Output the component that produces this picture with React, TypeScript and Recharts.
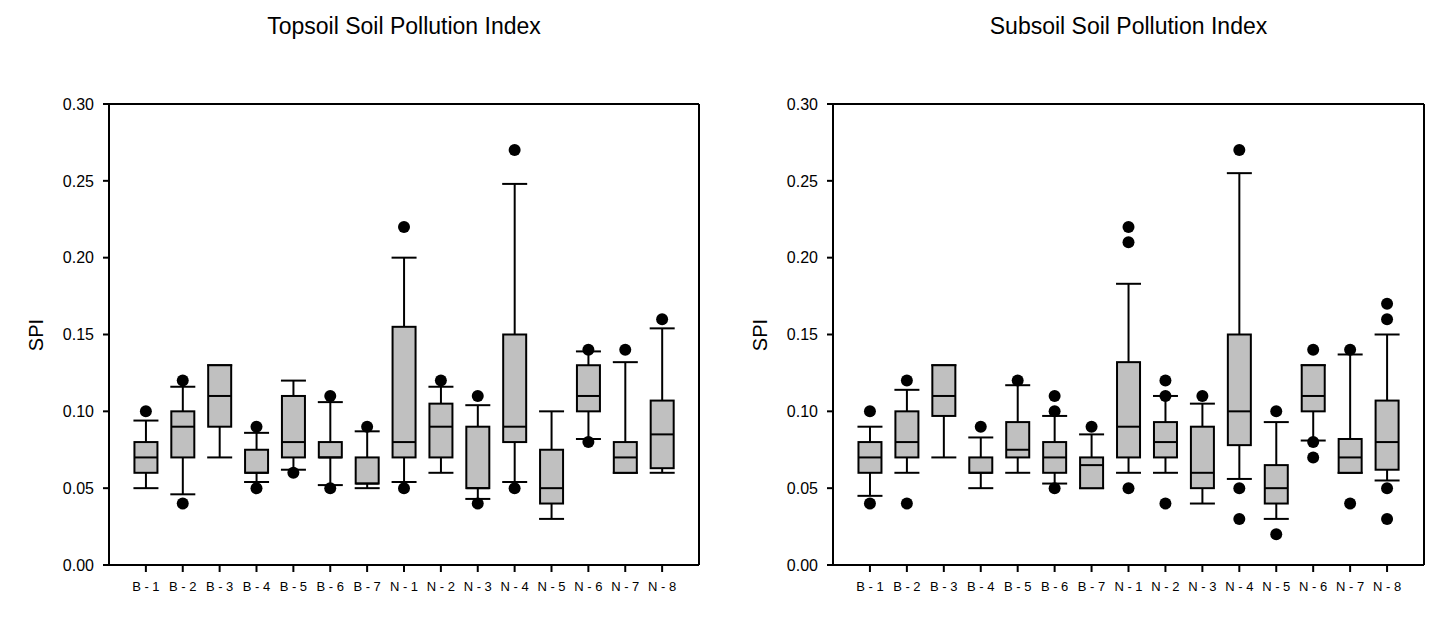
import React from "react";
import {
  ComposedChart,
  Bar,
  Scatter,
  XAxis,
  YAxis,
  ReferenceLine,
} from "recharts";

// sampling sites
const names = [
  "B - 1", "B - 2", "B - 3", "B - 4", "B - 5", "B - 6", "B - 7",
  "N - 1", "N - 2", "N - 3", "N - 4", "N - 5", "N - 6", "N - 7", "N - 8",
];
const yTicks = [0, 0.05, 0.1, 0.15, 0.2, 0.25, 0.3];

// topsoil box statistics
const topLow = [0.05, 0.046, 0.07, 0.054, 0.062, 0.052, 0.05, 0.054, 0.06, 0.043, 0.054, 0.03, 0.082, 0.06, 0.06];
const topQ1 = [0.06, 0.07, 0.09, 0.06, 0.07, 0.07, 0.053, 0.07, 0.07, 0.05, 0.08, 0.04, 0.1, 0.06, 0.063];
const topMed = [0.07, 0.09, 0.11, 0.06, 0.08, 0.07, 0.053, 0.08, 0.09, 0.05, 0.09, 0.05, 0.11, 0.07, 0.085];
const topQ3 = [0.08, 0.1, 0.13, 0.075, 0.11, 0.08, 0.07, 0.155, 0.105, 0.09, 0.15, 0.075, 0.13, 0.08, 0.107];
const topHigh = [0.094, 0.116, 0.13, 0.086, 0.12, 0.106, 0.087, 0.2, 0.116, 0.104, 0.248, 0.1, 0.139, 0.132, 0.154];
const topOutliers = [
  [0.1], [0.12, 0.04], [], [0.09, 0.05], [0.06], [0.11, 0.05], [0.09],
  [0.22, 0.05], [0.12], [0.11, 0.04], [0.27, 0.05], [], [0.14, 0.08], [0.14], [0.16],
];

// subsoil box statistics
const subLow = [0.045, 0.06, 0.07, 0.05, 0.06, 0.053, 0.05, 0.06, 0.06, 0.04, 0.056, 0.03, 0.081, 0.06, 0.055];
const subQ1 = [0.06, 0.07, 0.097, 0.06, 0.07, 0.06, 0.05, 0.07, 0.07, 0.05, 0.078, 0.04, 0.1, 0.06, 0.062];
const subMed = [0.07, 0.08, 0.11, 0.06, 0.075, 0.07, 0.065, 0.09, 0.08, 0.06, 0.1, 0.05, 0.11, 0.07, 0.08];
const subQ3 = [0.08, 0.1, 0.13, 0.07, 0.093, 0.08, 0.07, 0.132, 0.093, 0.09, 0.15, 0.065, 0.13, 0.082, 0.107];
const subHigh = [0.09, 0.114, 0.13, 0.083, 0.117, 0.097, 0.085, 0.183, 0.11, 0.105, 0.255, 0.093, 0.13, 0.137, 0.15];
const subOutliers = [
  [0.1, 0.04], [0.12, 0.04], [], [0.09], [0.12], [0.11, 0.1, 0.05], [0.09],
  [0.22, 0.21, 0.05], [0.12, 0.11, 0.04], [0.11], [0.27, 0.05, 0.03], [0.1, 0.02],
  [0.14, 0.08, 0.07], [0.14, 0.04], [0.17, 0.16, 0.05, 0.03],
];

const FONT = "'Liberation Sans', Arial, sans-serif";
const positions = names.map((_, i) => i + 1);

function buildBoxes(lo: number[], q1: number[], med: number[], q3: number[], hi: number[]) {
  return names.map((name, i) => ({
    name,
    pos: i + 1,
    lo: lo[i],
    q1: q1[i],
    med: med[i],
    q3: q3[i],
    hi: hi[i],
  }));
}

function flattenOutliers(out: number[][]) {
  return out.flatMap((vals, i) => vals.map((v) => ({ pos: i + 1, v })));
}

// whiskers, caps, box and median, placed from the bar's own scaled extent
function BoxShape(props: any) {
  const { x, y, width, height, payload } = props;
  if (x == null || y == null || !payload) return null;
  const top = Math.min(y, y + height);
  const bottom = Math.max(y, y + height);
  const span = payload.hi - payload.lo;
  const at = (v: number) => bottom - ((v - payload.lo) / span) * (bottom - top);
  const cx = x + width / 2;
  const capL = x - 1;
  const capR = x + width + 1;
  return (
    <g stroke="#000" strokeWidth={2}>
      <line x1={cx} x2={cx} y1={at(payload.hi)} y2={at(payload.q3)} />
      <line x1={cx} x2={cx} y1={at(payload.q1)} y2={at(payload.lo)} />
      <line x1={capL} x2={capR} y1={at(payload.hi)} y2={at(payload.hi)} />
      <line x1={capL} x2={capR} y1={at(payload.lo)} y2={at(payload.lo)} />
      <rect
        x={x}
        y={at(payload.q3)}
        width={width}
        height={at(payload.q1) - at(payload.q3)}
        fill="#c0c0c0"
      />
      <line x1={x} x2={x + width} y1={at(payload.med)} y2={at(payload.med)} />
    </g>
  );
}

const OutlierDot = (p: any) =>
  p.cx == null ? null : <circle cx={p.cx} cy={p.cy} r={6} fill="#000" />;

type PanelProps = {
  title: string;
  boxes: ReturnType<typeof buildBoxes>;
  outliers: { pos: number; v: number }[];
  left: number;
  mLeft: number;
  mRight: number;
};

const CW = 728;
const CH = 621;
const TOP = 104;
const BOTTOM = 26;
const XH = 30;
const YW = 60;

function Panel({ title, boxes, outliers, left, mLeft, mRight }: PanelProps) {
  const plotLeft = left + mLeft + YW;
  const plotWidth = CW - mLeft - mRight - YW;
  const plotMid = TOP + (CH - TOP - BOTTOM - XH) / 2;
  return (
    <>
      <div
        style={{
          position: "absolute",
          left: plotLeft,
          width: plotWidth,
          top: 13,
          textAlign: "center",
          fontFamily: FONT,
          fontSize: 23,
          lineHeight: "26px",
          color: "#000",
        }}
      >
        {title}
      </div>
      <div
        style={{
          position: "absolute",
          left: plotLeft - 73,
          top: plotMid,
          transform: "translate(-50%, -50%) rotate(-90deg)",
          fontFamily: FONT,
          fontSize: 20,
          lineHeight: "22px",
          color: "#000",
          whiteSpace: "nowrap",
        }}
      >
        SPI
      </div>
      <div style={{ position: "absolute", left, top: 0 }}>
        <ComposedChart
          width={CW}
          height={CH}
          data={boxes}
          margin={{ top: TOP, right: mRight, bottom: BOTTOM, left: mLeft }}
        >
          <XAxis
            type="number"
            dataKey="pos"
            domain={[0, 16]}
            ticks={positions}
            interval={0}
            tickFormatter={(v) => names[v - 1]}
            tick={{ fill: "#000", fontSize: 13, fontFamily: FONT }}
            tickLine={{ stroke: "#000", strokeWidth: 2 }}
            axisLine={{ stroke: "#000", strokeWidth: 2 }}
            tickSize={7}
            tickMargin={10}
            height={XH}
          />
          <YAxis
            type="number"
            domain={[0, 0.3]}
            ticks={yTicks}
            interval={0}
            tickFormatter={(v) => v.toFixed(2)}
            tick={{ fill: "#000", fontSize: 16, fontFamily: FONT }}
            tickLine={{ stroke: "#000", strokeWidth: 2 }}
            axisLine={{ stroke: "#000", strokeWidth: 2 }}
            tickSize={6}
            tickMargin={9}
            width={YW}
          />
          <ReferenceLine y={0.3} stroke="#000" strokeWidth={2} />
          <ReferenceLine x={16} stroke="#000" strokeWidth={2} />
          <Bar
            dataKey={(d: any) => [d.lo, d.hi]}
            barSize={23}
            shape={BoxShape}
            isAnimationActive={false}
          />
          <Scatter
            data={outliers}
            dataKey="v"
            shape={OutlierDot}
            isAnimationActive={false}
          />
        </ComposedChart>
      </div>
    </>
  );
}

export default function App() {
  const topBoxes = buildBoxes(topLow, topQ1, topMed, topQ3, topHigh);
  const subBoxes = buildBoxes(subLow, subQ1, subMed, subQ3, subHigh);
  return (
    <div
      style={{
        position: "absolute",
        left: 0,
        top: 0,
        width: 1456,
        height: 621,
        background: "#fff",
        overflow: "hidden",
      }}
    >
      <Panel
        title="Topsoil Soil Pollution Index"
        boxes={topBoxes}
        outliers={flattenOutliers(topOutliers)}
        left={0}
        mLeft={49}
        mRight={29}
      />
      <Panel
        title="Subsoil Soil Pollution Index"
        boxes={subBoxes}
        outliers={flattenOutliers(subOutliers)}
        left={728}
        mLeft={45}
        mRight={32}
      />
    </div>
  );
}
